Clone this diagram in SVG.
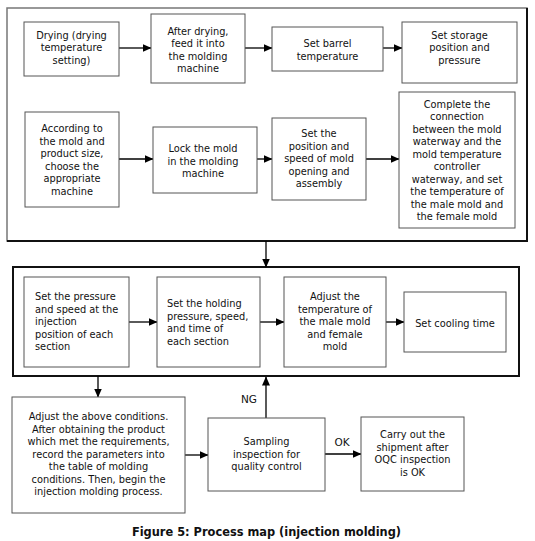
<svg xmlns="http://www.w3.org/2000/svg" width="535" height="541" viewBox="0 0 535 541">
<defs>
<marker id="ah" markerWidth="9" markerHeight="8" refX="8.5" refY="4" orient="auto" markerUnits="userSpaceOnUse">
<path d="M0,0 L9,4 L0,8 Z" fill="#000"/>
</marker>
<style>
.n{fill:#fff;stroke:#555;stroke-width:1}
.t{font-family:"DejaVu Sans",Verdana,sans-serif;font-size:9.8px;fill:#111;text-anchor:middle}
.l{text-anchor:start}
.c{stroke:#000;stroke-width:1.3;fill:none;marker-end:url(#ah)}
.lab{font-family:"DejaVu Sans",Verdana,sans-serif;font-size:10.5px;fill:#111;text-anchor:middle}
</style>
</defs>
<rect width="535" height="541" fill="#fff"/>
<g id="group1">
<rect x="7" y="8" width="520" height="233" fill="none" stroke="#777" stroke-width="1.5"/>
<path d="M527,8 V241 H7" fill="none" stroke="#111" stroke-width="2"/>
</g>
<g id="group2">
<rect x="13" y="267" width="506" height="109" fill="none" stroke="#111" stroke-width="2"/>
</g>
<g id="connectors">
<path class="c" d="M119,48 H151"/>
<path class="c" d="M245,48 H272"/>
<path class="c" d="M383,48 H402"/>
<path class="c" d="M119,159 H153"/>
<path class="c" d="M257,159 H272"/>
<path class="c" d="M366,159 H399"/>
<path class="c" d="M266,241 V267"/>
<path class="c" d="M129,322 H157"/>
<path class="c" d="M260,322 H284"/>
<path class="c" d="M386,322 H404"/>
<path class="c" d="M98,376 V397"/>
<path class="c" d="M185,455 H208"/>
<path class="c" d="M266,418 V377"/>
<path class="c" d="M325,454 H361"/>
<text class="lab" x="249" y="403">NG</text>
<text class="lab" x="342" y="446">OK</text>
</g>
<g id="drying">
<rect class="n" x="24" y="22" width="95" height="54"/>
<text class="t" x="71.5" y="38.5">Drying (drying</text>
<text class="t" x="71.5" y="51">temperature</text>
<text class="t" x="71.5" y="63.5">setting)</text>
</g>
<g id="feed">
<rect class="n" x="151" y="14" width="94" height="69"/>
<text class="t" x="198" y="34.5">After drying,</text>
<text class="t" x="198" y="47">feed it into</text>
<text class="t" x="198" y="59.5">the molding</text>
<text class="t" x="198" y="72">machine</text>
</g>
<g id="barrel">
<rect class="n" x="272" y="27" width="111" height="44"/>
<text class="t" x="327.5" y="47">Set barrel</text>
<text class="t" x="327.5" y="59.5">temperature</text>
</g>
<g id="storage">
<rect class="n" x="402" y="22" width="115" height="61"/>
<text class="t" x="459.5" y="38.5">Set storage</text>
<text class="t" x="459.5" y="51">position and</text>
<text class="t" x="459.5" y="63.5">pressure</text>
</g>
<g id="choose">
<rect class="n" x="25" y="112" width="94" height="95"/>
<text class="t" x="72" y="132">According to</text>
<text class="t" x="72" y="144.5">the mold and</text>
<text class="t" x="72" y="157">product size,</text>
<text class="t" x="72" y="169.5">choose the</text>
<text class="t" x="72" y="182">appropriate</text>
<text class="t" x="72" y="194.5">machine</text>
</g>
<g id="lock">
<rect class="n" x="153" y="127" width="104" height="66"/>
<text class="t" x="203" y="152">Lock the mold</text>
<text class="t" x="203" y="164.5">in the molding</text>
<text class="t" x="203" y="177">machine</text>
</g>
<g id="opening">
<rect class="n" x="272" y="118" width="94" height="82"/>
<text class="t" x="319" y="137">Set the</text>
<text class="t" x="319" y="149.5">position and</text>
<text class="t" x="319" y="162">speed of mold</text>
<text class="t" x="319" y="174.5">opening and</text>
<text class="t" x="319" y="187">assembly</text>
</g>
<g id="waterway">
<rect class="n" x="399" y="92" width="116" height="136"/>
<text class="t" x="457" y="107.5">Complete the</text>
<text class="t" x="457" y="120">connection</text>
<text class="t" x="457" y="132.5">between the mold</text>
<text class="t" x="457" y="145">waterway and the</text>
<text class="t" x="457" y="157.5">mold temperature</text>
<text class="t" x="457" y="170">controller</text>
<text class="t" x="457" y="182.5">waterway, and set</text>
<text class="t" x="457" y="195">the temperature of</text>
<text class="t" x="457" y="207.5">the male mold and</text>
<text class="t" x="457" y="220">the female mold</text>
</g>
<g id="injection">
<rect class="n" x="24" y="277" width="105" height="90"/>
<text class="t l" x="35" y="300">Set the pressure</text>
<text class="t l" x="35" y="312.5">and speed at the</text>
<text class="t l" x="35" y="325">injection</text>
<text class="t l" x="35" y="337.5">position of each</text>
<text class="t l" x="35" y="350">section</text>
</g>
<g id="holding">
<rect class="n" x="157" y="277" width="103" height="90"/>
<text class="t l" x="167" y="307">Set the holding</text>
<text class="t l" x="167" y="319.5">pressure, speed,</text>
<text class="t l" x="167" y="332">and time of</text>
<text class="t l" x="167" y="344.5">each section</text>
</g>
<g id="moldtemp">
<rect class="n" x="284" y="277" width="102" height="90"/>
<text class="t" x="335" y="300">Adjust the</text>
<text class="t" x="335" y="312.5">temperature of</text>
<text class="t" x="335" y="325">the male mold</text>
<text class="t" x="335" y="337.5">and female</text>
<text class="t" x="335" y="350">mold</text>
</g>
<g id="cooling">
<rect class="n" x="404" y="292" width="102" height="60"/>
<text class="t" x="455" y="327">Set cooling time</text>
</g>
<g id="adjust">
<rect class="n" x="12" y="397" width="173" height="116"/>
<text class="t" x="98.5" y="420">Adjust the above conditions.</text>
<text class="t" x="98.5" y="432.5">After obtaining the product</text>
<text class="t" x="98.5" y="445">which met the requirements,</text>
<text class="t" x="98.5" y="457.5">record the parameters into</text>
<text class="t" x="98.5" y="470">the table of molding</text>
<text class="t" x="98.5" y="482.5">conditions. Then, begin the</text>
<text class="t" x="98.5" y="495">injection molding process.</text>
</g>
<g id="sampling">
<rect class="n" x="208" y="418" width="117" height="73"/>
<text class="t" x="266.5" y="445">Sampling</text>
<text class="t" x="266.5" y="457.5">inspection for</text>
<text class="t" x="266.5" y="470">quality control</text>
</g>
<g id="shipment">
<rect class="n" x="361" y="417" width="103" height="74"/>
<text class="t" x="412.5" y="438">Carry out the</text>
<text class="t" x="412.5" y="450.5">shipment after</text>
<text class="t" x="412.5" y="463">OQC inspection</text>
<text class="t" x="412.5" y="475.5">is OK</text>
</g>
<text x="266.5" y="536" font-family="DejaVu Sans,Verdana,sans-serif" font-size="11.4" font-weight="bold" fill="#111" text-anchor="middle">Figure 5: Process map (injection molding)</text>
</svg>
